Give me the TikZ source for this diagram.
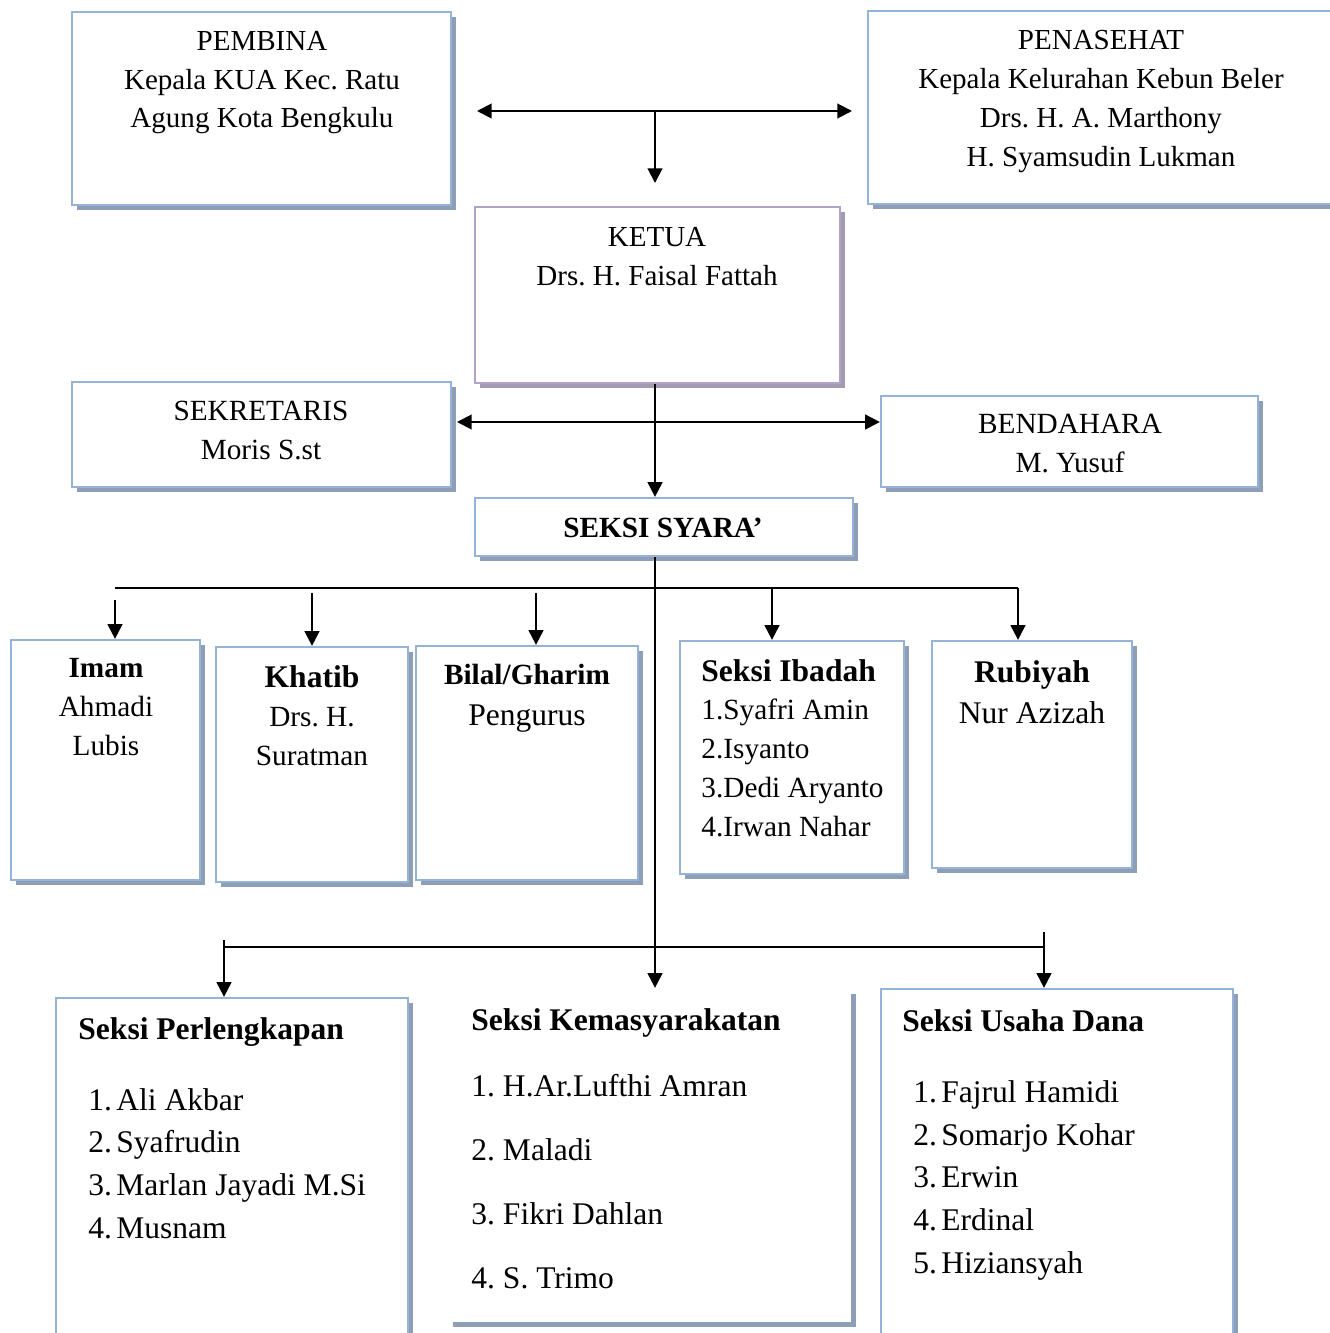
\documentclass[tikz,border=0pt]{standalone}
\usepackage{fontspec}
\setmainfont{Liberation Serif}
\usepackage{xcolor}
\usepackage{tikz}
\usetikzlibrary{positioning}
\usetikzlibrary{fit}
\usetikzlibrary{shadows}
\usetikzlibrary{arrows.meta}
\definecolor{boxblue}{HTML}{95B3D7}
\definecolor{shadeblue}{HTML}{8E9EB6}
\definecolor{boxpurple}{HTML}{B3A2C7}
\definecolor{shadepurple}{HTML}{A59BB0}
\frenchspacing
\newcommand{\itm}[1]{\makebox[12.4pt][l]{#1}}
\tikzset{	>={Triangle[length=6.5pt,width=6.5pt]},
	orgbox/.style={
		draw=boxblue,
		line width=1pt,
		fill=white,
		inner sep=0pt,
		drop shadow={shadow xshift=2pt, shadow yshift=-2pt, fill=shadeblue, opacity=1}},
	chiefbox/.style={
		orgbox,
		draw=boxpurple,
		drop shadow={shadow xshift=2pt, shadow yshift=-2pt, fill=shadepurple, opacity=1}},
	openbox/.style={
		orgbox,
		draw=none},
	link/.style={
		draw,
		line width=0.9pt},
	toptext/.style={font=\fontsize{12.9}{17.3}\selectfont, align=center, inner sep=0pt, anchor=base},
	sidetext/.style={font=\fontsize{13}{17.3}\selectfont, align=center, inner sep=0pt, anchor=base},
	midtext/.style={font=\fontsize{13}{17.2}\selectfont, align=center, inner sep=0pt, anchor=base},
	lowtitle/.style={font=\fontsize{14}{18.9}\selectfont\bfseries, inner sep=0pt, anchor=base west},
	lowlist/.style={font=\fontsize{14}{18.9}\selectfont, align=left, inner sep=0pt, anchor=base west}
}
\begin{document}
\begin{tikzpicture}[x=0.444pt, y=-0.444pt]
				\useasboundingbox (0,0) rectangle (1330,1333);
				% boxes
				\node[orgbox, fit={(72,12) (451,205)}] (pembina) {};
				\node[orgbox, fit={(868,11) (1336,204)}] (penasehat) {};
				\node[chiefbox, fit={(475,207) (840,383)}] (ketua) {};
				\node[orgbox, fit={(72,382) (451,487)}] (sekretaris) {};
				\node[orgbox, fit={(881,396) (1258,487)}] (bendahara) {};
				\node[orgbox, fit={(475,498) (853,556)}] (syara) {};
				\node[orgbox, fit={(11,640) (200,880)}] (imam) {};
				\node[orgbox, fit={(216,647) (408,882)}] (khatib) {};
				\node[orgbox, fit={(416,646) (638,880)}] (bilal) {};
				\node[orgbox, fit={(680,641) (904,874)}] (ibadah) {};
				\node[orgbox, fit={(932,641) (1132,868)}] (rubiyah) {};
				\node[orgbox, fit={(56,998) (408,1360)}] (perlengkapan) {};
				\node[openbox, fit={(448,989) (851,1322)}] (kemasyarakatan) {};
				\node[orgbox, fit={(881,989) (1233,1360)}] (usaha) {};
				% texts (placed by the baseline of their last line)
				\node[toptext] (pembinatxt) at (262,128) {PEMBINA\\Kepala KUA Kec. Ratu\\Agung Kota Bengkulu};
				\node[toptext] (penasehattxt) at (1101,166) {PENASEHAT\\Kepala Kelurahan Kebun Beler\\Drs. H. A. Marthony\\H. Syamsudin Lukman};
				\node[toptext] (ketuatxt) at (657,285) {KETUA\\Drs. H. Faisal Fattah};
				\node[sidetext] (sekretaristxt) at (261,459) {SEKRETARIS\\Moris S.st};
				\node[sidetext] (bendaharatxt) at (1070,472) {BENDAHARA\\M. Yusuf};
				\node[sidetext, font=\fontsize{13}{17.3}\selectfont\bfseries] (syaratxt) at (663,537) {SEKSI SYARA’};
				\node[midtext] (imamtxt) at (106,755) {\textbf{Imam}\\Ahmadi\\Lubis};
				\node[midtext] (khatibtxt) at (312,765) {{\fontsize{14}{17.3}\selectfont\bfseries Khatib}\\Drs. H.\\Suratman};
				\node[midtext] (bilaltxt) at (527,725) {\textbf{Bilal/Gharim}\\[0.6pt]{\fontsize{14}{17.3}\selectfont Pengurus}};
				\node[midtext, align=left, anchor=base west] (ibadahtxt) at (701,836) {{\fontsize{14}{17.2}\selectfont\bfseries Seksi Ibadah}\\1.Syafri Amin\\2.Isyanto\\3.Dedi Aryanto\\4.Irwan Nahar};
				\node[midtext, font=\fontsize{14}{18.2}\selectfont] (rubiyahtxt) at (1032,723) {\textbf{Rubiyah}\\Nur Azizah};
				\node[lowtitle] (perlengkapantitle) at (78,1039) {Seksi Perlengkapan};
				\node[lowlist] (perlengkapanlist) at (88,1238) {\itm{1.}Ali Akbar\\\itm{2.}Syafrudin\\\itm{3.}Marlan Jayadi M.Si\\\itm{4.}Musnam};
				\node[lowtitle] (kemasyarakatantitle) at (471,1030) {Seksi Kemasyarakatan};
				\node[lowlist, font=\fontsize{14}{28.3}\selectfont] (kemasyarakatanlist) at (471,1288) {1. H.Ar.Lufthi Amran\\2. Maladi\\3. Fikri Dahlan\\4. S. Trimo};
				\node[lowtitle] (usahatitle) at (902,1031) {Seksi Usaha Dana};
				\node[lowlist] (usahalist) at (913,1273) {\itm{1.}Fajrul Hamidi\\\itm{2.}Somarjo Kohar\\\itm{3.}Erwin\\\itm{4.}Erdinal\\\itm{5.}Hiziansyah};
				% connectors
				\coordinate (topl) at (477,111);
				\coordinate (topr) at (852,111);
				\coordinate (topmid) at (655,111);
				\coordinate (topdown) at (655,183);
				\draw[link, <->] (topl) -- (topr);
				\draw[link, ->] (topmid) -- (topdown);
				\coordinate (spine) at (655,422);
				\coordinate (sidel) at (457,422);
				\draw[link, ->] (ketua.south -| spine) -- (syara.north -| spine);
				\draw[link, <->] (sidel) -- (bendahara.west |- sidel);
				\draw[link, ->] (syara.south -| spine) -- (kemasyarakatan.north -| spine);
				\coordinate (busl) at (115,588);
				\coordinate (busr) at (1018,588);
				\coordinate (imamin) at (115,600);
				\coordinate (khatibin) at (312,593);
				\coordinate (bilalin) at (536,593);
				\coordinate (ibadahin) at (772,588);
				\draw[link, line width=0.8pt] (busl) -- (busr);
				\draw[link, ->] (imamin) -- (imam.north -| imamin);
				\draw[link, ->] (khatibin) -- (khatib.north -| khatibin);
				\draw[link, ->] (bilalin) -- (bilal.north -| bilalin);
				\draw[link, ->] (ibadahin) -- (ibadah.north -| ibadahin);
				\draw[link, ->] (busr) -- (rubiyah.north -| busr);
				\coordinate (lowl) at (225,947);
				\coordinate (lowr) at (1044,947);
				\coordinate (perlengkapanin) at (224,940);
				\coordinate (usahain) at (1044,932);
				\draw[link, line width=0.8pt] (lowl) -- (lowr);
				\draw[link, ->] (perlengkapanin) -- (perlengkapan.north -| perlengkapanin);
				\draw[link, ->] (usahain) -- (usaha.north -| usahain);
			\end{tikzpicture}
\end{document}
